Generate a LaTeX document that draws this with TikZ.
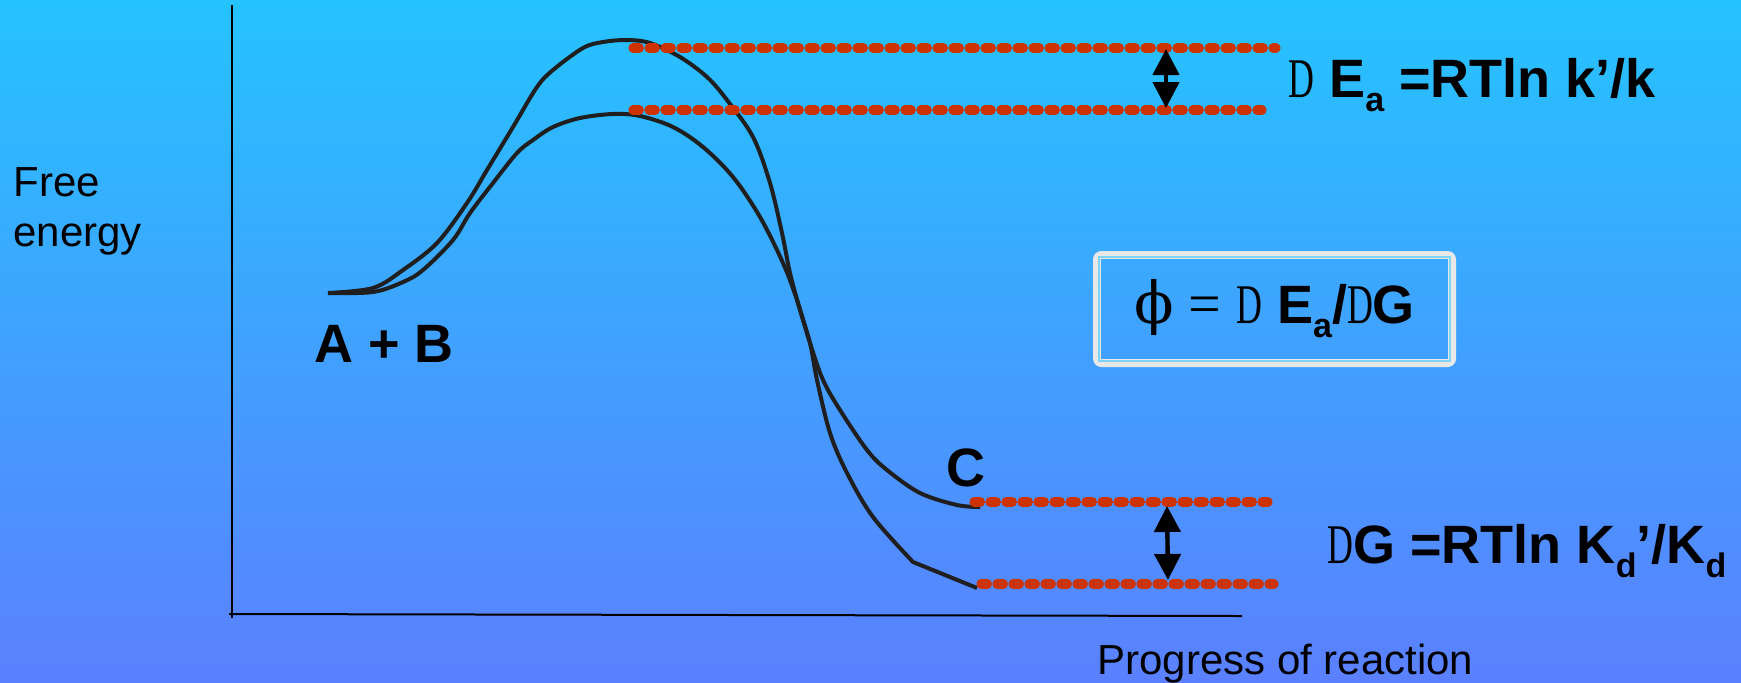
\documentclass[tikz,border=0pt]{standalone}
\usepackage{fontspec}
\setmainfont{Liberation Sans}
\newfontfamily\serifD{Liberation Serif}
\newfontfamily\phifont{DejaVu Serif}
\usetikzlibrary{arrows.meta,calc}
\definecolor{skytop}{RGB}{37,195,255}
\definecolor{skybot}{RGB}{91,128,255}
\definecolor{levelred}{RGB}{204,51,0}
\definecolor{framegray}{RGB}{232,232,232}
\newcommand{\lowsub}[1]{\raisebox{-7pt}{\fontsize{17}{17}\selectfont #1}}
\newcommand{\dee}{{\serifD\mdseries\fontsize{28}{30}\selectfont\scalebox{0.64}[1]{D}}}

\begin{document}
\begin{tikzpicture}[x=0.5pt, y=-0.5pt, curve/.style={line width=2pt, black!88, line join=round}, axis/.style={line width=1pt}, level/.style={levelred, line width=4.6pt, line cap=round, dash pattern=on 3.2pt off 4.8pt}, arr/.style={{Triangle[length=13pt,width=13pt]}-{Triangle[length=13pt,width=13pt]}, line width=2.2pt}, lbl/.style={inner sep=0pt, anchor=base west, font=\fontsize{27}{30}\selectfont\bfseries}, axlbl/.style={inner sep=0pt, font=\fontsize{21}{25}\selectfont}]
\shade[top color=skytop, bottom color=skybot] (0,0) rectangle (1741,682);
\useasboundingbox (0,0) rectangle (1741,682);

\coordinate (ytop) at (232,5);
\coordinate (ybot) at (232,618);
\coordinate (xleft) at (229,614);
\coordinate (xright) at (1242,616);
\draw[axis] (ytop) -- (ybot);
\draw[axis] (xleft) -- (xright);

\draw[curve] plot[smooth, tension=0.55] coordinates {(328,293) (373,288) (403,270) (437,243) (467,203) (487,170) (513,127) (537,87) (553,70) (583,48) (603,42) (627,40) (650,43) (680,57) (707,77) (727,100) (753,137) (770,183) (782,233) (790,273) (800,310) (810,343) (817,380) (830,433) (847,473) (873,517) (913,562)} -- (977,588);
\draw[curve] plot[smooth, tension=0.55] coordinates {(328,293) (373,292) (403,282) (423,270) (453,240) (470,213) (493,183) (517,153) (533,140) (553,127) (580,118) (613,114) (640,116) (673,127) (703,147) (733,177) (760,217) (783,263) (797,300) (810,343) (823,380) (840,410) (867,450) (887,470) (920,493) (957,505) (980,507)};

\coordinate (tsA) at (633,48);
\coordinate (tsAend) at (1276,48);
\coordinate (tsB) at (633,110);
\coordinate (tsBend) at (1262,110);
\coordinate (prA) at (974,502);
\coordinate (prAend) at (1268,502);
\coordinate (prB) at (981,584);
\coordinate (prBend) at (1274,584);
\draw[level] (tsA) -- (tsAend);
\draw[level] (tsB) -- (tsBend);
\draw[level] (prA) -- (prAend);
\draw[level] (prB) -- (prBend);

\coordinate (eaup) at (1166,49);
\coordinate (eadown) at (1166,108);
\coordinate (dgup) at (1167,506);
\coordinate (dgdown) at (1168,580);
\draw[arr] (eaup) -- (eadown);
\draw[arr] (dgup) -- (dgdown);

\node[axlbl, align=left, anchor=north west] (ylab) at (13,167) {Free\\energy};
\node[axlbl, anchor=base west] (xlab) at (1097,674) {Progress of reaction};
\node[lbl] (ab) at (314,362) {A + B};
\node[lbl] (c) at (946,486) {C};
\node[lbl] (ealab) at (1288,97) {\dee\ E\lowsub{a} =RTln k’/k};
\node[lbl] (dglab) at (1327,563) {\dee G =RTln K\lowsub{d}’/K\lowsub{d}};

\node[draw=framegray, line width=2.5pt, rounded corners=3pt, minimum width=179pt, minimum height=55.5pt, font=\fontsize{27}{30}\selectfont\bfseries] (phibox) at (1274.5,309) {{\phifont\mdseries\fontsize{29}{30}\selectfont ϕ}\ {\serifD\mdseries\fontsize{29}{30}\selectfont =}\ \dee\ E\lowsub{a}/\dee G};
\draw[framegray, line width=0.5pt, double=framegray!45!skytop, double distance=0.6pt] ($(phibox.north west)+(6,6)$) rectangle ($(phibox.south east)+(-6,-6)$);
\end{tikzpicture}
\end{document}
